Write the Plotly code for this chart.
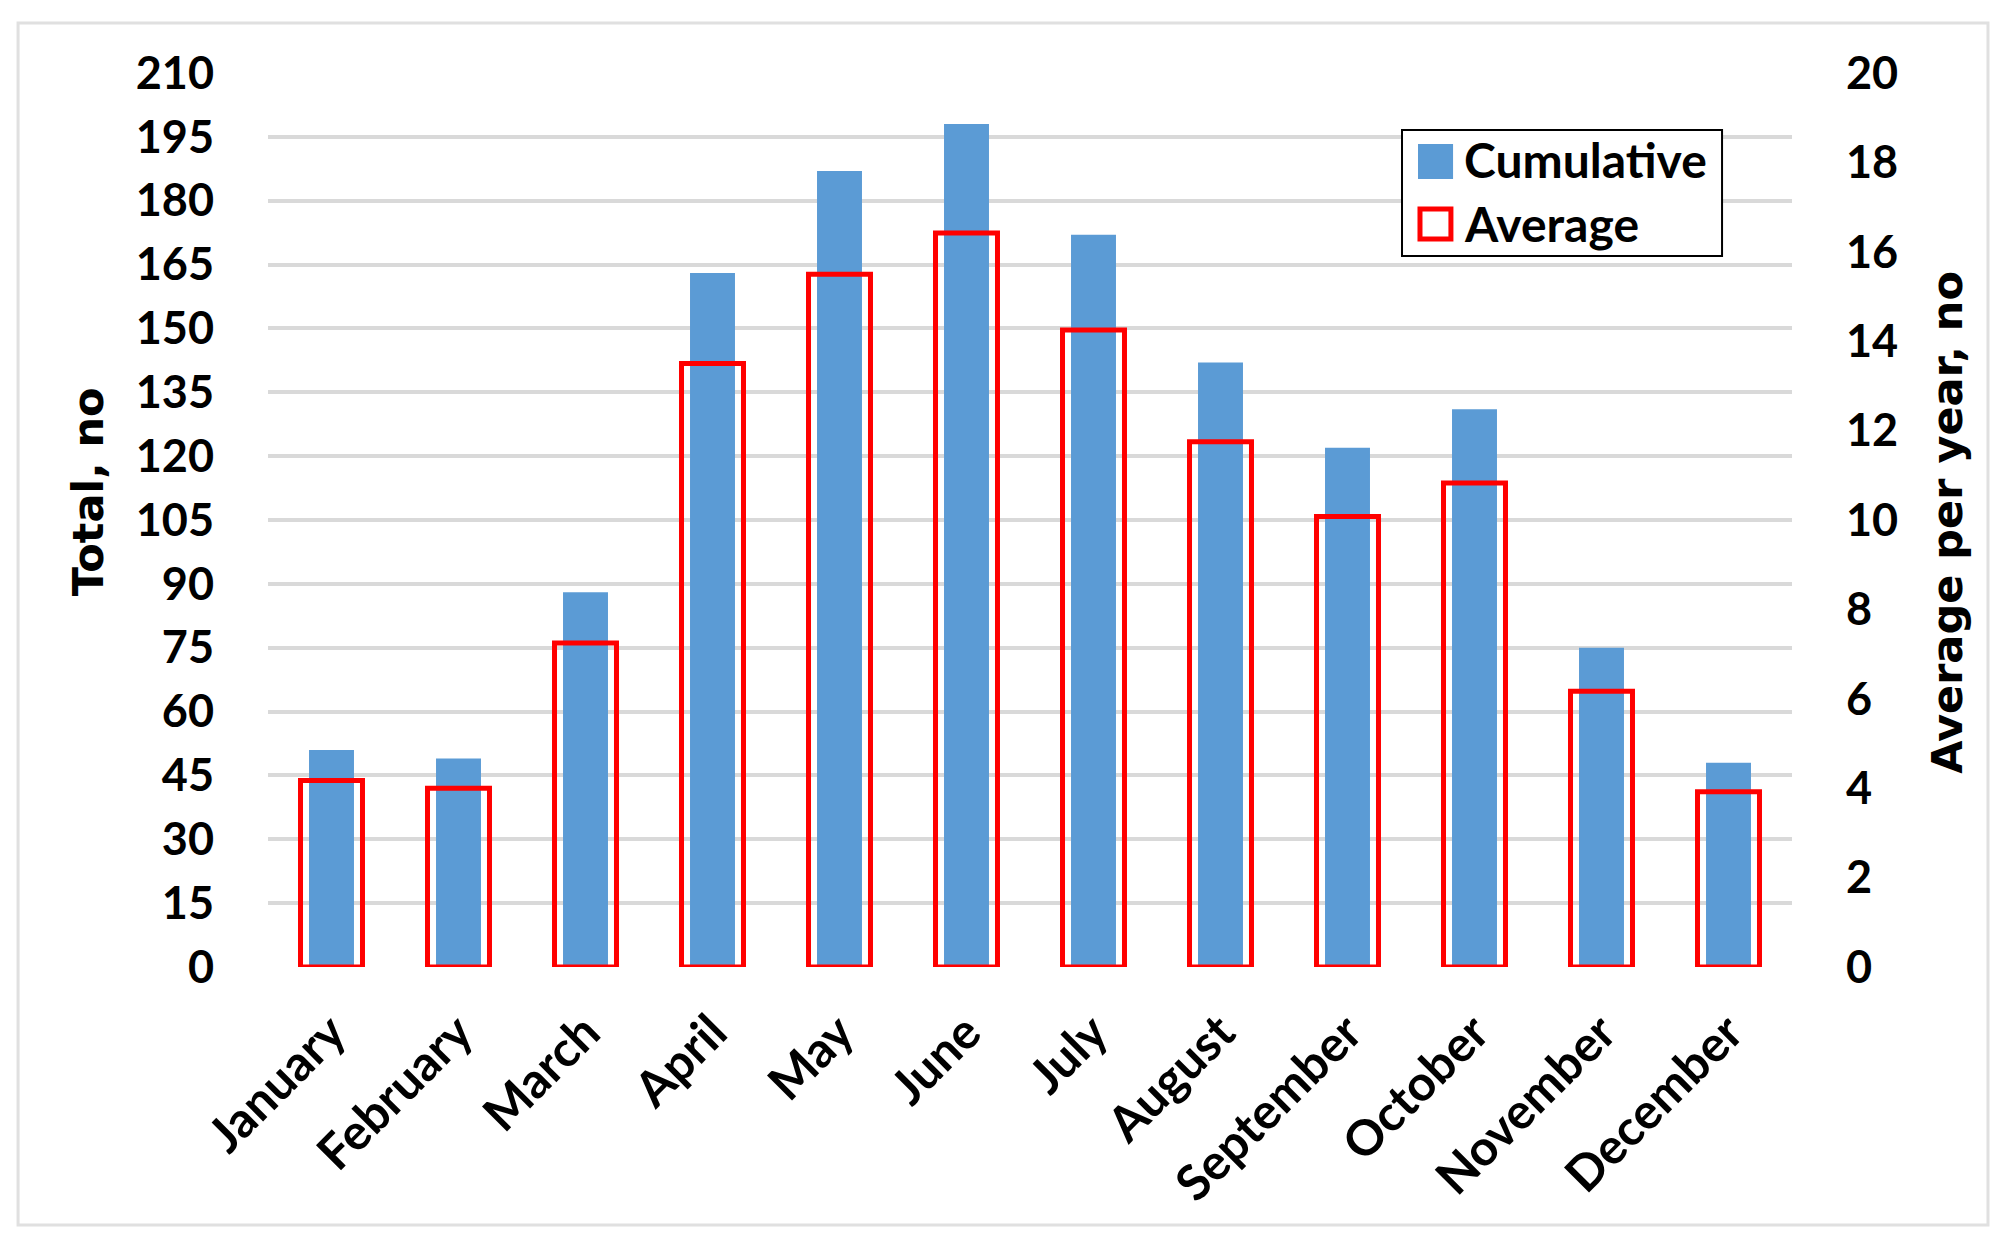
import plotly.graph_objects as go

months = ["January", "February", "March", "April", "May", "June", "July",
          "August", "September", "October", "November", "December"]
cumulative = [51, 49, 88, 163, 187, 198, 172, 142, 122, 131, 75, 48]
average = [4.17, 4.0, 7.25, 13.5, 15.5, 16.42, 14.25, 11.75, 10.08, 10.83, 6.17, 3.92]
left_ticks = list(range(0, 211, 15))
right_ticks = list(range(0, 21, 2))
series_names = ["Cumulative", "Average"]

BLUE = "#5b9bd5"
RED = "#ff0000"
TICK_FONT = dict(family="Lato, Open Sans, sans-serif", size=45, color="black", weight="bold")
TITLE_FONT = dict(family="DejaVu Sans, Verdana, sans-serif", size=43, color="black")

fig = go.Figure()
fig.add_trace(go.Bar(
    x=months, y=cumulative, name=series_names[0], width=0.354,
    marker=dict(color=BLUE, line=dict(width=0)), yaxis="y", showlegend=False,
))
fig.add_trace(go.Bar(
    x=months, y=average, name=series_names[1], width=0.488,
    marker=dict(color="rgba(0,0,0,0)", line=dict(color=RED, width=5)),
    yaxis="y2", showlegend=False,
))

# Legend (drawn to match the large symbols of the original)
legend_shapes = [
    dict(type="rect", xref="paper", yref="paper", x0=0.7441, x1=0.9541, y0=0.7953, y1=0.9362,
         line=dict(color="black", width=2), fillcolor="white", layer="above"),
    dict(type="rect", xref="paper", yref="paper", x0=0.7546, x1=0.7776, y0=0.8814, y1=0.9206,
         line=dict(width=0), fillcolor=BLUE, layer="above"),
    dict(type="rect", xref="paper", yref="paper", x0=0.7559, x1=0.7762, y0=0.8143, y1=0.8479,
         line=dict(color=RED, width=5), fillcolor="white", layer="above"),
]
legend_annotations = [
    dict(text=series_names[0], xref="paper", yref="paper", x=0.7835, y=0.9027,
         xanchor="left", yanchor="middle", showarrow=False, font=dict(TICK_FONT, size=48)),
    dict(text=series_names[1], xref="paper", yref="paper", x=0.7835, y=0.8322,
         xanchor="left", yanchor="middle", showarrow=False, font=dict(TICK_FONT, size=48)),
]
title_annotations = [
    dict(text="<b>Total, no</b>", xref="paper", yref="paper", x=-0.1181, y=0.531,
         xanchor="center", yanchor="middle", textangle=-90, showarrow=False, font=TITLE_FONT),
    dict(text="<b>Average per year, no</b>", xref="paper", yref="paper", x=1.1017, y=0.498,
         xanchor="center", yanchor="middle", textangle=-90, showarrow=False, font=TITLE_FONT),
]

# The page has an 8px body margin, so the figure is sized to fit inside it.
fig.update_layout(
    width=1997, height=1230,
    paper_bgcolor="white", plot_bgcolor="white",
    barmode="overlay",
    margin=dict(l=260, r=213, t=65, b=271),
    font=dict(family="Lato, sans-serif", color="black"),
    showlegend=False,
    xaxis=dict(
        range=[-0.5, 11.5], tickangle=-45, tickfont=dict(TICK_FONT, size=49),
        showgrid=False, showline=False, zeroline=False,
        ticks="outside", ticklen=16, tickcolor="rgba(0,0,0,0)",
    ),
    yaxis=dict(
        range=[0, 210], tickvals=left_ticks, tickfont=TICK_FONT,
        showgrid=True, gridcolor="#d9d9d9", gridwidth=4, zeroline=False,
        ticks="outside", ticklen=44, tickcolor="rgba(0,0,0,0)",
    ),
    yaxis2=dict(
        range=[0, 20], tickvals=right_ticks, overlaying="y", side="right",
        tickfont=TICK_FONT, showgrid=False, zeroline=False,
        ticks="outside", ticklen=44, tickcolor="rgba(0,0,0,0)",
    ),
    shapes=[dict(
        type="rect", xref="paper", yref="paper",
        x0=-0.164, x1=1.1286, y0=-0.2886, y1=1.056,
        line=dict(color="#e0e0e0", width=3), fillcolor="rgba(0,0,0,0)", layer="below",
    )] + legend_shapes,
    annotations=title_annotations + legend_annotations,
)

fig.write_html("out.html")
